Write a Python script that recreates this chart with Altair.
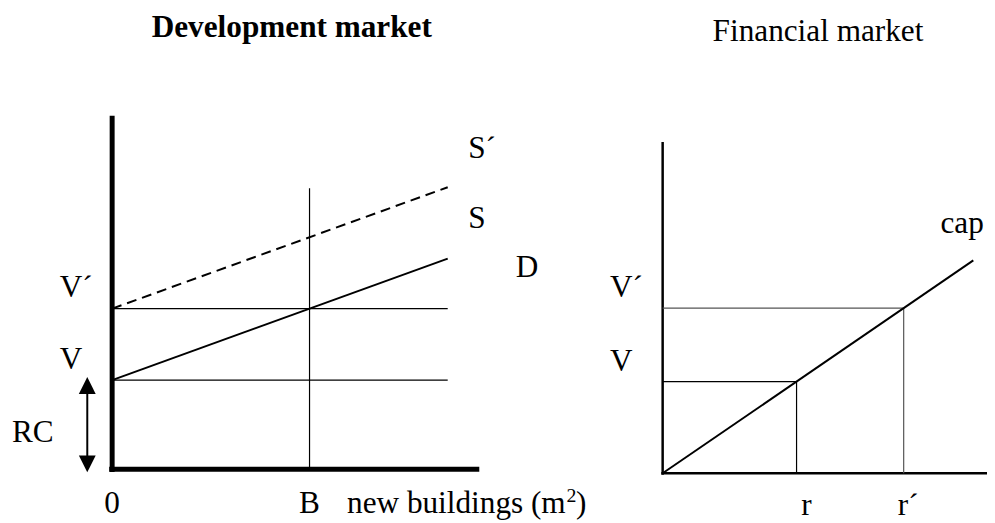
import altair as alt
import pandas as pd

FONT = "Liberation Serif"
FS = 31.5
FS_SUP = 20

# ---------------- data (diagram units) ----------------
# Development market (left)
B = 10            # new buildings at equilibrium
V = 10            # value = replacement cost
V_PRIME = 18      # higher value
line_end = 17     # end of horizontal reference lines / supply curves
s_x = [0, 17]
s_y = [10, 23.6]          # supply S
s2_y = [18, 31.6]         # supply S'
left_axis_top = 39.6
left_axis_right = 18.6
b_line_top = 31.5
rc_arrow_x = -1.26

left_labels_text = ["V´", "V", "RC", "S´", "S", "D", "new buildings (m", ")"]
left_labels_x = [-2.66, -2.66, -5.08, 18.04, 18.04, 20.45, 11.9, 23.5]
left_labels_y = [19.33, 11.2, 3.1, 34.9, 27.0, 21.6, -4.9, -4.9]
left_center_text = ["0", "B"]
left_center_x = [0, 10]
left_center_y = [-4.9, -4.9]
sup_text = ["2"]
sup_x = [23.02]
sup_y = [-3.7]

# Financial market (right)
r = 10
r_prime = 18
cap_x = [0, 23.2]
cap_y = [0, 23.2]
right_axis_top = 36.1
right_axis_right = 25

right_labels_text = ["V´", "V", "r´", "cap"]
right_labels_x = [-3.93, -3.93, 17.56, 20.75]
right_labels_y = [19.24, 11.1, -4.5, 26.2]
right_center_text = ["r"]
right_center_x = [10.74]
right_center_y = [-4.5]

# ---------------- canvas / scales ----------------
W, H = 987, 515

def lin(origin_px, px_per_unit, size, invert=False):
    if not invert:
        return [-origin_px / px_per_unit, (size - origin_px) / px_per_unit]
    return [-(size - origin_px) / px_per_unit, origin_px / px_per_unit]

LX = alt.Scale(domain=lin(105, 19.9, W), nice=False, zero=False)
LY = alt.Scale(domain=lin(463, 9.0, H, invert=True), nice=False, zero=False)
RX = alt.Scale(domain=lin(660, 13.5, W), nice=False, zero=False)
RY = alt.Scale(domain=lin(467, 9.25, H, invert=True), nice=False, zero=False)


def rules(df, sx, sy):
    return alt.Chart(df).mark_rule(strokeCap="butt").encode(
        x=alt.X("x:Q", scale=sx, axis=None),
        x2="x2:Q",
        y=alt.Y("y:Q", scale=sy, axis=None),
        y2="y2:Q",
        strokeWidth=alt.StrokeWidth("w:Q", scale=None),
        color=alt.Color("c:N", scale=None),
    )


def texts(df, sx, sy, align, weight="normal", size=FS):
    return alt.Chart(df).mark_text(
        align=align, baseline="alphabetic", font=FONT, fontSize=size,
        fontWeight=weight, color="black"
    ).encode(
        x=alt.X("x:Q", scale=sx, axis=None),
        y=alt.Y("y:Q", scale=sy, axis=None),
        text="t:N",
    )

# ---------------- left panel ----------------
left_rules_df = pd.DataFrame({
    "x":  [0, -0.15, 0, 0, B, rc_arrow_x],
    "x2": [0, left_axis_right, line_end, line_end, B, rc_arrow_x],
    "y":  [-0.3, 0, V, V_PRIME, 0, 0.3],
    "y2": [left_axis_top, 0, V, V_PRIME, b_line_top, 9.7],
    "w":  [5, 5, 1.2, 1.2, 1.2, 2],
    "c":  ["black"] * 6,
})

supply_df = pd.DataFrame({
    "x": s_x + s_x,
    "y": s_y + s2_y,
    "k": ["S", "S", "S2", "S2"],
})

s_line = alt.Chart(supply_df[supply_df.k == "S"]).mark_line(
    color="black", strokeWidth=2
).encode(x=alt.X("x:Q", scale=LX, axis=None), y=alt.Y("y:Q", scale=LY, axis=None))

s2_line = alt.Chart(supply_df[supply_df.k == "S2"]).mark_line(
    color="black", strokeWidth=2, strokeDash=[10, 6]
).encode(x=alt.X("x:Q", scale=LX, axis=None), y=alt.Y("y:Q", scale=LY, axis=None))

arrow_up = alt.Chart(pd.DataFrame({"x": [rc_arrow_x], "y": [10.33]})).mark_point(
    shape="M0,0L0.5,1L-0.5,1Z", size=1156, filled=True, opacity=1, color="black"
).encode(x=alt.X("x:Q", scale=LX, axis=None), y=alt.Y("y:Q", scale=LY, axis=None))

arrow_down = alt.Chart(pd.DataFrame({"x": [rc_arrow_x], "y": [-0.33]})).mark_point(
    shape="M0,0L0.5,-1L-0.5,-1Z", size=1156, filled=True, opacity=1, color="black"
).encode(x=alt.X("x:Q", scale=LX, axis=None), y=alt.Y("y:Q", scale=LY, axis=None))

left_lab = texts(pd.DataFrame({"x": left_labels_x, "y": left_labels_y, "t": left_labels_text}),
                 LX, LY, "left")
left_sup = texts(pd.DataFrame({"x": sup_x, "y": sup_y, "t": sup_text}),
                 LX, LY, "left", size=FS_SUP)
left_cen = texts(pd.DataFrame({"x": left_center_x, "y": left_center_y, "t": left_center_text}),
                 LX, LY, "center")
left_title = texts(pd.DataFrame({"x": [9.1], "y": [48.4], "t": ["Development market"]}),
                   LX, LY, "center", weight="bold")

left = alt.layer(
    rules(left_rules_df, LX, LY), s_line, s2_line, arrow_up, arrow_down,
    left_lab, left_sup, left_cen, left_title
)

# ---------------- right panel ----------------
right_rules_df = pd.DataFrame({
    "x":  [0, -0.1, 0, 0, r, r_prime],
    "x2": [0, right_axis_right, r, r_prime, r, r_prime],
    "y":  [-0.15, 0, V, V_PRIME, 0, 0],
    "y2": [right_axis_top, 0, V, V_PRIME, V, V_PRIME],
    "w":  [2.5, 2.5, 1.2, 1.2, 1.2, 1.2],
    "c":  ["black", "black", "black", "#555555", "black", "#555555"],
})

cap_line = alt.Chart(pd.DataFrame({"x": cap_x, "y": cap_y})).mark_line(
    color="black", strokeWidth=2
).encode(x=alt.X("x:Q", scale=RX, axis=None), y=alt.Y("y:Q", scale=RY, axis=None))

right_lab = texts(pd.DataFrame({"x": right_labels_x, "y": right_labels_y, "t": right_labels_text}),
                  RX, RY, "left")
right_cen = texts(pd.DataFrame({"x": right_center_x, "y": right_center_y, "t": right_center_text}),
                  RX, RY, "center")
right_title = texts(pd.DataFrame({"x": [11.6], "y": [47.1], "t": ["Financial market"]}),
                    RX, RY, "center")

right = alt.layer(rules(right_rules_df, RX, RY), cap_line, right_lab, right_cen, right_title)

chart = alt.layer(left, right).resolve_scale(
    x="independent", y="independent"
).properties(
    width=W, height=H, padding=0, autosize=alt.AutoSizeParams(type="none"),
    background="white"
).configure_view(strokeWidth=0)

chart.save("out.html", embed_options={"renderer": "svg", "actions": False})
